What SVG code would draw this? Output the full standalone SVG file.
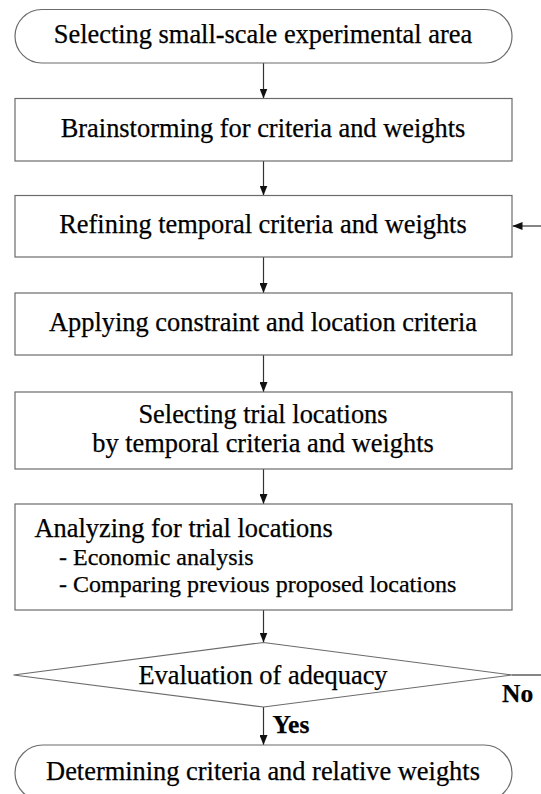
<svg xmlns="http://www.w3.org/2000/svg" width="541" height="794" viewBox="0 0 541 794">
<defs>
<style>
.node rect, .node polygon { fill: #ffffff; stroke: #6b6b6b; stroke-width: 1.2; }
.t { font-family: "Liberation Serif", "Times New Roman", serif; font-size: 26.4px; fill: #000000; stroke: #000000; stroke-width: 0.25; }
.s { font-size: 24px; }
.c { text-anchor: middle; }
.b { font-weight: bold; font-size: 25.5px; }
.conn line { stroke: #333333; stroke-width: 1.2; fill: none; }
.conn .arr { marker-end: url(#ah); }
</style>
<marker id="ah" viewBox="0 0 10 8" refX="10" refY="4" markerWidth="10" markerHeight="8" markerUnits="userSpaceOnUse" orient="auto">
<path d="M0,0 L10,4 L0,8 Z" fill="#111111"/>
</marker>
</defs>
<rect width="541" height="794" fill="#ffffff"/>

<g id="connectors" class="conn">
<line class="arr" x1="263.5" y1="63" x2="263.5" y2="98.5"/>
<line class="arr" x1="263.5" y1="161" x2="263.5" y2="195.5"/>
<line class="arr" x1="263.5" y1="257" x2="263.5" y2="293"/>
<line class="arr" x1="263.5" y1="355" x2="263.5" y2="392"/>
<line class="arr" x1="263.5" y1="469" x2="263.5" y2="504"/>
<line class="arr" x1="263.5" y1="610" x2="263.5" y2="642.5"/>
<line class="arr" x1="263.5" y1="707" x2="263.5" y2="745"/>
<line x1="512" y1="675" x2="541" y2="675"/>
<line class="arr" x1="541" y1="226" x2="512.5" y2="226"/>
<text class="t b" x="502" y="702">No</text>
<text class="t b" x="272.5" y="733">Yes</text>
</g>

<g id="start" class="node">
<rect x="15" y="9.5" width="497" height="53.5" rx="26.75" ry="26.75"/>
<text class="t c" x="263" y="43">Selecting small-scale experimental area</text>
</g>

<g id="brainstorm" class="node">
<rect x="15" y="98.5" width="497" height="62.5"/>
<text class="t c" x="263" y="137">Brainstorming for criteria and weights</text>
</g>

<g id="refine" class="node">
<rect x="15" y="195.5" width="497" height="61.5"/>
<text class="t c" x="263" y="233">Refining temporal criteria and weights</text>
</g>

<g id="apply" class="node">
<rect x="15" y="293" width="497" height="62"/>
<text class="t c" x="263" y="331">Applying constraint and location criteria</text>
</g>

<g id="select" class="node">
<rect x="15" y="392" width="497" height="77"/>
<text class="t c" x="263" y="423">Selecting trial locations</text>
<text class="t c" x="263" y="452">by temporal criteria and weights</text>
</g>

<g id="analyze" class="node">
<rect x="15" y="504" width="497" height="106"/>
<text class="t" x="34.5" y="537">Analyzing for trial locations</text>
<text class="t s" x="59" y="565">- Economic analysis</text>
<text class="t s" x="59" y="592">- Comparing previous proposed locations</text>
</g>

<g id="evaluate" class="node">
<polygon points="263.5,642.5 512,675 263.5,707 13.5,675"/>
<text class="t c" x="263" y="684">Evaluation of adequacy</text>
</g>

<g id="end" class="node">
<rect x="15" y="745" width="497" height="56" rx="28" ry="28"/>
<text class="t c" x="263" y="780">Determining criteria and relative weights</text>
</g>
</svg>
